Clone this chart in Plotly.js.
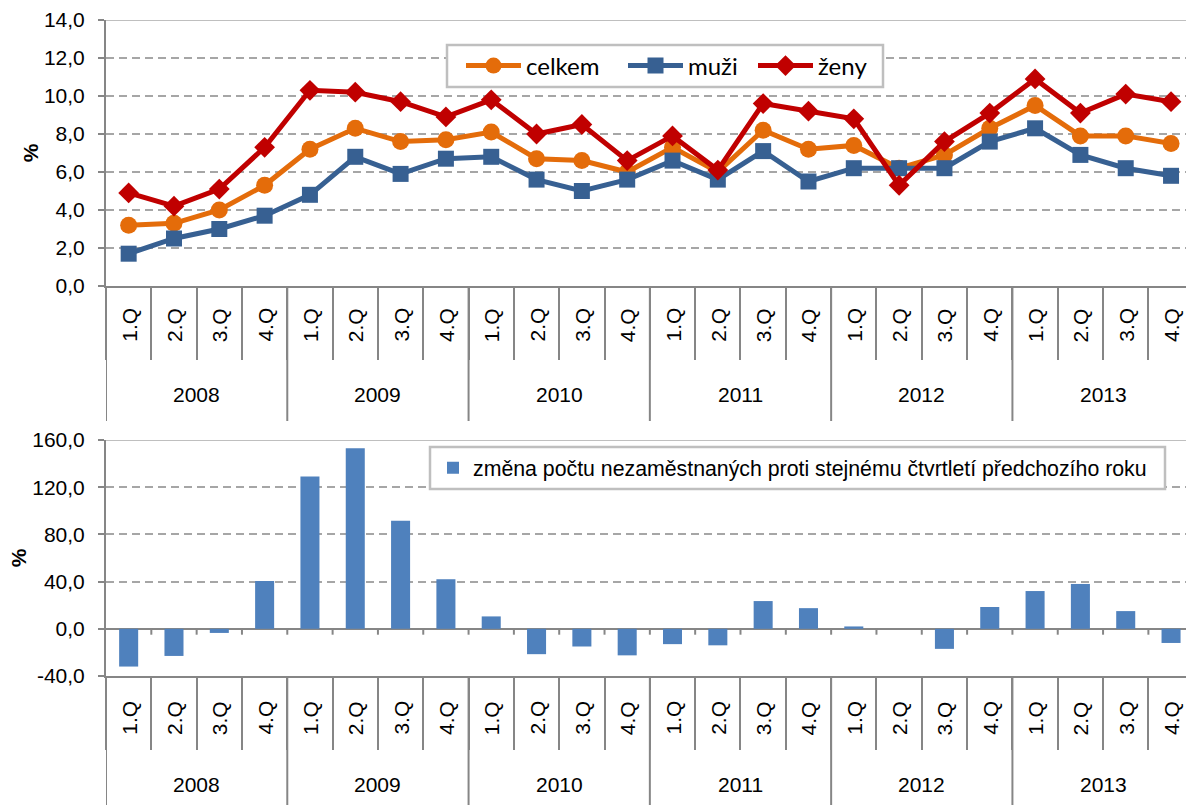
<!DOCTYPE html>
<html>
<head>
<meta charset="utf-8">
<script src="https://cdn.plot.ly/plotly-3.0.1.min.js"></script>
<style>
  html, body { margin: 0; padding: 0; background: #ffffff; }
  #chart { width: 1186px; height: 805px; }
</style>
</head>
<body>
<div id="chart"></div>
<script>
// Nezaměstnanost podle čtvrtletí 2008-2013

const years = ['2008', '2009', '2010', '2011', '2012', '2013'];
const quarters = ['1.Q', '2.Q', '3.Q', '4.Q'];

// míra nezaměstnanosti (%)
const celkem = [3.2, 3.3, 4.0, 5.3, 7.2, 8.3, 7.6, 7.7, 8.1, 6.7, 6.6, 6.0,
                7.3, 6.0, 8.2, 7.2, 7.4, 6.2, 6.9, 8.3, 9.5, 7.9, 7.9, 7.5];
const muzi   = [1.7, 2.5, 3.0, 3.7, 4.8, 6.8, 5.9, 6.7, 6.8, 5.6, 5.0, 5.6,
                6.6, 5.6, 7.1, 5.5, 6.2, 6.2, 6.2, 7.6, 8.3, 6.9, 6.2, 5.8];
const zeny   = [4.9, 4.2, 5.1, 7.3, 10.3, 10.2, 9.7, 8.9, 9.8, 8.0, 8.5, 6.6,
                7.9, 6.1, 9.6, 9.2, 8.8, 5.3, 7.6, 9.1, 10.9, 9.1, 10.1, 9.7];

// změna počtu nezaměstnaných proti stejnému čtvrtletí předchozího roku (%)
const zmena  = [-32, -23, -3.5, 40.5, 129, 153, 91.5, 42, 10.5, -21.5, -15, -22.5,
                -13, -14, 23.5, 17.5, 2, 0, -17, 18.5, 32, 38, 15, -12];

// y tick values of both panels
const ticksTop = [0, 2, 4, 6, 8, 10, 12, 14];
const ticksBottom = [-40, 0, 40, 80, 120, 160];

const W = 1186, H = 805, L = 106;
const FONT = 'Liberation Sans, Arial, sans-serif';
const LEGFONT = 'Lato, Liberation Sans, sans-serif';
const AXIS = '#868686';
const GRID = '#a6a6a6';

// pixel -> paper fraction (plot area spans L..W horizontally, full height)
const py = (p) => 1 - p / H;
const px = (p) => (p - L) / (W - L);

// Czech number format with a plain hyphen for negatives
const fmt = (v) => v.toFixed(1).replace('.', ',');

const idx = celkem.map((_, i) => i);

const traces = [
  {
    x: idx, y: celkem, name: 'celkem', mode: 'lines+markers',
    line: { color: '#E46C0A', width: 5 },
    marker: { symbol: 'circle', size: 17, color: '#E46C0A' },
    xaxis: 'x', yaxis: 'y', legend: 'legend'
  },
  {
    x: idx, y: muzi, name: 'muži', mode: 'lines+markers',
    line: { color: '#376092', width: 5 },
    marker: { symbol: 'square', size: 16, color: '#376092' },
    xaxis: 'x', yaxis: 'y', legend: 'legend2'
  },
  {
    x: idx, y: zeny, name: 'ženy', mode: 'lines+markers',
    line: { color: '#C00000', width: 5 },
    marker: { symbol: 'diamond', size: 16, color: '#C00000' },
    xaxis: 'x', yaxis: 'y', legend: 'legend3'
  },
  {
    type: 'bar', x: idx, y: zmena, width: 0.42,
    name: 'změna počtu nezaměstnaných proti stejnému čtvrtletí předchozího roku',
    marker: { color: '#4F81BD' },
    xaxis: 'x2', yaxis: 'y2', legend: 'legend4'
  }
];

const boundaries = [];
for (let i = 0; i <= idx.length; i++) boundaries.push(i - 0.5);

const xBase = {
  range: [-0.5, 23.33],
  showgrid: false,
  zeroline: false,
  showline: true, linecolor: AXIS, linewidth: 2,
  tickmode: 'array', tickvals: boundaries,
  ticks: 'outside', ticklen: 72, tickwidth: 2, tickcolor: AXIS,
  showticklabels: false,
  fixedrange: true
};

const yBase = {
  showline: true, linecolor: AXIS, linewidth: 2,
  ticks: 'outside', ticklen: 6, tickwidth: 2, tickcolor: AXIS,
  ticklabelstandoff: 9,
  tickmode: 'array',
  tickfont: { family: FONT, size: 21, color: '#000' },
  gridcolor: GRID, gridwidth: 2, griddash: '8px,5px',
  zeroline: false,
  fixedrange: true
};

function legendAt(left, centerY, size, family) {
  return {
    orientation: 'h', x: px(left), y: py(centerY), xanchor: 'left', yanchor: 'middle',
    bgcolor: 'rgba(0,0,0,0)', borderwidth: 0,
    font: { family: family, size: size, color: '#000' },
    itemwidth: 55, itemclick: false, itemdoubleclick: false
  };
}

// two plot rows: top 20..286 px, bottom 440..676 px
const layout = {
  width: W, height: H,
  margin: { l: L, r: 0, t: 0, b: 0 },
  paper_bgcolor: '#ffffff',
  plot_bgcolor: '#ffffff',
  font: { family: FONT, size: 21, color: '#000' },
  showlegend: true,
  xaxis: Object.assign({}, xBase, { anchor: 'y' }),
  yaxis: Object.assign({}, yBase, {
    domain: [py(286), py(20)], range: [0, 14], anchor: 'x',
    tickvals: ticksTop, ticktext: ticksTop.map(fmt),
    title: { text: '<b>%</b>', standoff: 0, font: { family: FONT, size: 21, color: '#000' } }
  }),
  xaxis2: Object.assign({}, xBase, { anchor: 'y2' }),
  yaxis2: Object.assign({}, yBase, {
    domain: [py(676), py(440)], range: [-40, 160], anchor: 'x2',
    tickvals: ticksBottom, ticktext: ticksBottom.map(fmt),
    zeroline: true, zerolinecolor: AXIS, zerolinewidth: 2,
    title: { text: '<b>%</b>', standoff: 0, font: { family: FONT, size: 21, color: '#000' } }
  }),
  legend: legendAt(461, 66, 24, LEGFONT),
  legend2: legendAt(623, 66, 24, LEGFONT),
  legend3: legendAt(753, 66, 24, LEGFONT),
  legend4: Object.assign(legendAt(433, 468, 21.3, FONT), { itemwidth: 30 }),
  shapes: [],
  annotations: []
};

// legend frames
[[447, 883, 45, 87], [430, 1165, 447, 489]].forEach(([x0, x1, y0, y1]) => {
  layout.shapes.push({
    type: 'rect', xref: 'paper', yref: 'paper', layer: 'above',
    x0: px(x0), x1: px(x1), y0: py(y1), y1: py(y0),
    fillcolor: '#ffffff', line: { color: '#bfbfbf', width: 2.5 }
  });
});

// solid top border of each plot
[['x domain', 'y', 14], ['x2 domain', 'y2', 160]].forEach(([xr, yr, v]) => {
  layout.shapes.push({
    type: 'line', xref: xr, yref: yr,
    x0: 0, x1: 1, y0: v, y1: v, layer: 'below',
    line: { color: '#bfbfbf', width: 2 }
  });
});

// small ticks on the zero line of the bar chart
boundaries.slice(1, -1).forEach((b) => {
  layout.shapes.push({
    type: 'line', xref: 'x2', yref: 'y2', x0: b, x1: b, y0: 0, y1: -5,
    line: { color: AXIS, width: 2 }
  });
});

// category labels: quarters rotated, years below, year dividers
const rows = [
  { xr: 'x', axisPx: 286, qPx: 325, yPx: 394, endPx: 421 },
  { xr: 'x2', axisPx: 676, qPx: 718, yPx: 784, endPx: 805 }
];
rows.forEach((r) => {
  idx.forEach((i) => {
    layout.annotations.push({
      xref: r.xr, yref: 'paper', x: i, y: py(r.qPx),
      text: quarters[i % 4], textangle: -90, showarrow: false,
      xanchor: 'center', yanchor: 'middle',
      font: { family: FONT, size: 21, color: '#000' }
    });
  });
  years.forEach((yr, k) => {
    layout.annotations.push({
      xref: r.xr, yref: 'paper', x: k * 4 + 1.5, y: py(r.yPx),
      text: yr, showarrow: false, xanchor: 'center', yanchor: 'middle',
      font: { family: FONT, size: 21, color: '#000' }
    });
  });
  for (let k = 0; k <= years.length; k++) {
    layout.shapes.push({
      type: 'line', xref: r.xr, yref: 'paper',
      x0: k * 4 - 0.5, x1: k * 4 - 0.5, y0: py(r.axisPx), y1: py(r.endPx),
      line: { color: AXIS, width: 2 }
    });
  }
});

Plotly.newPlot('chart', traces, layout, { displayModeBar: false, staticPlot: true });
</script>
</body>
</html>
